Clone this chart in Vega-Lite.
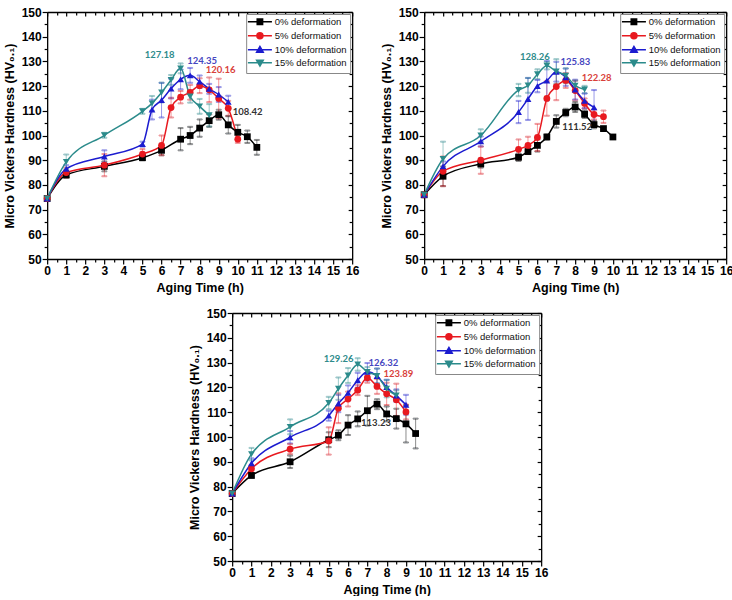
{
  "$schema": "https://vega.github.io/schema/vega-lite/v6.json",
  "padding": {"left": 3, "top": 6, "right": 0, "bottom": 0},
  "background": "white",
  "datasets": {
    "hv": [
      {"panel": "a", "series": "0% deformation", "t": 0, "hv": 74.5, "err": 0.5},
      {"panel": "a", "series": "0% deformation", "t": 1, "hv": 84, "err": 1},
      {"panel": "a", "series": "0% deformation", "t": 3, "hv": 87.5, "err": 2},
      {"panel": "a", "series": "0% deformation", "t": 5, "hv": 91, "err": 1},
      {"panel": "a", "series": "0% deformation", "t": 6, "hv": 94, "err": 2},
      {"panel": "a", "series": "0% deformation", "t": 7, "hv": 98.5, "err": 4.5},
      {"panel": "a", "series": "0% deformation", "t": 7.5, "hv": 100, "err": 3.5},
      {"panel": "a", "series": "0% deformation", "t": 8, "hv": 103, "err": 3.5},
      {"panel": "a", "series": "0% deformation", "t": 8.5, "hv": 106, "err": 2.5},
      {"panel": "a", "series": "0% deformation", "t": 9, "hv": 108.42, "err": 2},
      {"panel": "a", "series": "0% deformation", "t": 9.5, "hv": 104.3, "err": 3.5},
      {"panel": "a", "series": "0% deformation", "t": 10, "hv": 101.3, "err": 3},
      {"panel": "a", "series": "0% deformation", "t": 10.5, "hv": 99.5, "err": 2.5},
      {"panel": "a", "series": "0% deformation", "t": 11, "hv": 95.2, "err": 3},
      {"panel": "a", "series": "5% deformation", "t": 0, "hv": 74.5, "err": 0.5},
      {"panel": "a", "series": "5% deformation", "t": 1, "hv": 85, "err": 2},
      {"panel": "a", "series": "5% deformation", "t": 3, "hv": 88, "err": 4.5},
      {"panel": "a", "series": "5% deformation", "t": 5, "hv": 92.5, "err": 2},
      {"panel": "a", "series": "5% deformation", "t": 6, "hv": 96, "err": 4},
      {"panel": "a", "series": "5% deformation", "t": 6.5, "hv": 111.3, "err": 4},
      {"panel": "a", "series": "5% deformation", "t": 7, "hv": 115.5, "err": 2.5},
      {"panel": "a", "series": "5% deformation", "t": 7.5, "hv": 117.5, "err": 3},
      {"panel": "a", "series": "5% deformation", "t": 8, "hv": 120.16, "err": 3},
      {"panel": "a", "series": "5% deformation", "t": 8.5, "hv": 118.5, "err": 5},
      {"panel": "a", "series": "5% deformation", "t": 9, "hv": 115, "err": 8},
      {"panel": "a", "series": "5% deformation", "t": 9.5, "hv": 111, "err": 3},
      {"panel": "a", "series": "5% deformation", "t": 10, "hv": 98.5, "err": 1.5},
      {"panel": "a", "series": "10% deformation", "t": 0, "hv": 74.5, "err": 0.5},
      {"panel": "a", "series": "10% deformation", "t": 1, "hv": 86.5, "err": 1.5},
      {"panel": "a", "series": "10% deformation", "t": 3, "hv": 91.5, "err": 2.5},
      {"panel": "a", "series": "10% deformation", "t": 5, "hv": 96.5, "err": 1},
      {"panel": "a", "series": "10% deformation", "t": 5.5, "hv": 110.5, "err": 4},
      {"panel": "a", "series": "10% deformation", "t": 6, "hv": 114.3, "err": 7},
      {"panel": "a", "series": "10% deformation", "t": 6.5, "hv": 119, "err": 4},
      {"panel": "a", "series": "10% deformation", "t": 7, "hv": 122.7, "err": 4},
      {"panel": "a", "series": "10% deformation", "t": 7.5, "hv": 124.35, "err": 3},
      {"panel": "a", "series": "10% deformation", "t": 8, "hv": 121.8, "err": 2.5},
      {"panel": "a", "series": "10% deformation", "t": 8.5, "hv": 118.9, "err": 2},
      {"panel": "a", "series": "10% deformation", "t": 9, "hv": 116.6, "err": 3},
      {"panel": "a", "series": "10% deformation", "t": 9.5, "hv": 113.6, "err": 2.5},
      {"panel": "a", "series": "15% deformation", "t": 0, "hv": 74.5, "err": 0.5},
      {"panel": "a", "series": "15% deformation", "t": 1, "hv": 89.3, "err": 3},
      {"panel": "a", "series": "15% deformation", "t": 3, "hv": 100.1, "err": 1},
      {"panel": "a", "series": "15% deformation", "t": 5, "hv": 109.8, "err": 1},
      {"panel": "a", "series": "15% deformation", "t": 5.5, "hv": 113, "err": 3},
      {"panel": "a", "series": "15% deformation", "t": 6, "hv": 117.4, "err": 4},
      {"panel": "a", "series": "15% deformation", "t": 6.5, "hv": 122.5, "err": 2},
      {"panel": "a", "series": "15% deformation", "t": 7, "hv": 127.18, "err": 2},
      {"panel": "a", "series": "15% deformation", "t": 7.5, "hv": 115.8, "err": 2.5},
      {"panel": "a", "series": "15% deformation", "t": 8, "hv": 111.8, "err": 3},
      {"panel": "a", "series": "15% deformation", "t": 8.5, "hv": 108.2, "err": 4.5},

      {"panel": "b", "series": "0% deformation", "t": 0, "hv": 76, "err": 0.5},
      {"panel": "b", "series": "0% deformation", "t": 1, "hv": 83.5, "err": 4},
      {"panel": "b", "series": "0% deformation", "t": 3, "hv": 88.5, "err": 1.5},
      {"panel": "b", "series": "0% deformation", "t": 5, "hv": 91.2, "err": 1.5},
      {"panel": "b", "series": "0% deformation", "t": 5.5, "hv": 93.5, "err": 1},
      {"panel": "b", "series": "0% deformation", "t": 6, "hv": 96, "err": 2.5},
      {"panel": "b", "series": "0% deformation", "t": 6.5, "hv": 99.4, "err": 1},
      {"panel": "b", "series": "0% deformation", "t": 7, "hv": 105.7, "err": 2.5},
      {"panel": "b", "series": "0% deformation", "t": 7.5, "hv": 109.3, "err": 1.5},
      {"panel": "b", "series": "0% deformation", "t": 8, "hv": 111.52, "err": 2},
      {"panel": "b", "series": "0% deformation", "t": 8.5, "hv": 108.6, "err": 1.5},
      {"panel": "b", "series": "0% deformation", "t": 9, "hv": 104.4, "err": 1.5},
      {"panel": "b", "series": "0% deformation", "t": 9.5, "hv": 102.8, "err": 0.5},
      {"panel": "b", "series": "0% deformation", "t": 10, "hv": 99.4, "err": 0.5},
      {"panel": "b", "series": "5% deformation", "t": 0, "hv": 76, "err": 0.5},
      {"panel": "b", "series": "5% deformation", "t": 1, "hv": 85.5, "err": 6},
      {"panel": "b", "series": "5% deformation", "t": 3, "hv": 90, "err": 5.5},
      {"panel": "b", "series": "5% deformation", "t": 5, "hv": 94.4, "err": 4},
      {"panel": "b", "series": "5% deformation", "t": 5.5, "hv": 96, "err": 3.5},
      {"panel": "b", "series": "5% deformation", "t": 6, "hv": 99.2, "err": 5.5},
      {"panel": "b", "series": "5% deformation", "t": 6.5, "hv": 115, "err": 7},
      {"panel": "b", "series": "5% deformation", "t": 7, "hv": 119.8, "err": 5.5},
      {"panel": "b", "series": "5% deformation", "t": 7.5, "hv": 122.28, "err": 3},
      {"panel": "b", "series": "5% deformation", "t": 8, "hv": 118.2, "err": 4},
      {"panel": "b", "series": "5% deformation", "t": 8.5, "hv": 113, "err": 2},
      {"panel": "b", "series": "5% deformation", "t": 9, "hv": 108.5, "err": 2},
      {"panel": "b", "series": "5% deformation", "t": 9.5, "hv": 107.6, "err": 2.5},
      {"panel": "b", "series": "10% deformation", "t": 0, "hv": 76, "err": 0.5},
      {"panel": "b", "series": "10% deformation", "t": 1, "hv": 87.5, "err": 2},
      {"panel": "b", "series": "10% deformation", "t": 3, "hv": 97.6, "err": 2},
      {"panel": "b", "series": "10% deformation", "t": 5, "hv": 109.5, "err": 4.5},
      {"panel": "b", "series": "10% deformation", "t": 5.5, "hv": 114.8, "err": 8.5},
      {"panel": "b", "series": "10% deformation", "t": 6, "hv": 120, "err": 2.5},
      {"panel": "b", "series": "10% deformation", "t": 6.5, "hv": 122.2, "err": 8},
      {"panel": "b", "series": "10% deformation", "t": 7, "hv": 125.83, "err": 4},
      {"panel": "b", "series": "10% deformation", "t": 7.5, "hv": 123.6, "err": 3.5},
      {"panel": "b", "series": "10% deformation", "t": 8, "hv": 118.6, "err": 4},
      {"panel": "b", "series": "10% deformation", "t": 8.5, "hv": 114, "err": 3},
      {"panel": "b", "series": "10% deformation", "t": 9, "hv": 111.4, "err": 7},
      {"panel": "b", "series": "15% deformation", "t": 0, "hv": 76, "err": 0.5},
      {"panel": "b", "series": "15% deformation", "t": 1, "hv": 90.5, "err": 7},
      {"panel": "b", "series": "15% deformation", "t": 3, "hv": 100, "err": 2.5},
      {"panel": "b", "series": "15% deformation", "t": 5, "hv": 118.4, "err": 2.5},
      {"panel": "b", "series": "15% deformation", "t": 5.5, "hv": 120.3, "err": 3},
      {"panel": "b", "series": "15% deformation", "t": 6, "hv": 124.8, "err": 2},
      {"panel": "b", "series": "15% deformation", "t": 6.5, "hv": 128.26, "err": 1.5},
      {"panel": "b", "series": "15% deformation", "t": 7, "hv": 125.9, "err": 5},
      {"panel": "b", "series": "15% deformation", "t": 7.5, "hv": 124.2, "err": 3},
      {"panel": "b", "series": "15% deformation", "t": 8, "hv": 120.2, "err": 2},
      {"panel": "b", "series": "15% deformation", "t": 8.5, "hv": 118.6, "err": 1.5},

      {"panel": "c", "series": "0% deformation", "t": 0, "hv": 77.2, "err": 0.5},
      {"panel": "c", "series": "0% deformation", "t": 1, "hv": 84.5, "err": 1},
      {"panel": "c", "series": "0% deformation", "t": 3, "hv": 90, "err": 2.5},
      {"panel": "c", "series": "0% deformation", "t": 5, "hv": 98.9, "err": 3},
      {"panel": "c", "series": "0% deformation", "t": 5.5, "hv": 100.7, "err": 2},
      {"panel": "c", "series": "0% deformation", "t": 6, "hv": 104.8, "err": 4},
      {"panel": "c", "series": "0% deformation", "t": 6.5, "hv": 107.3, "err": 3},
      {"panel": "c", "series": "0% deformation", "t": 7, "hv": 110.6, "err": 6},
      {"panel": "c", "series": "0% deformation", "t": 7.5, "hv": 113.23, "err": 2},
      {"panel": "c", "series": "0% deformation", "t": 8, "hv": 109.3, "err": 3},
      {"panel": "c", "series": "0% deformation", "t": 8.5, "hv": 107.4, "err": 4},
      {"panel": "c", "series": "0% deformation", "t": 9, "hv": 105.3, "err": 7.5},
      {"panel": "c", "series": "0% deformation", "t": 9.5, "hv": 101.4, "err": 6},
      {"panel": "c", "series": "5% deformation", "t": 0, "hv": 77.2, "err": 0.5},
      {"panel": "c", "series": "5% deformation", "t": 1, "hv": 87.2, "err": 1.5},
      {"panel": "c", "series": "5% deformation", "t": 3, "hv": 95.1, "err": 2},
      {"panel": "c", "series": "5% deformation", "t": 5, "hv": 98.4, "err": 5.5},
      {"panel": "c", "series": "5% deformation", "t": 5.5, "hv": 111.6, "err": 6},
      {"panel": "c", "series": "5% deformation", "t": 6, "hv": 115.3, "err": 3},
      {"panel": "c", "series": "5% deformation", "t": 6.5, "hv": 118.9, "err": 2},
      {"panel": "c", "series": "5% deformation", "t": 7, "hv": 123.89, "err": 2},
      {"panel": "c", "series": "5% deformation", "t": 7.5, "hv": 120.4, "err": 3},
      {"panel": "c", "series": "5% deformation", "t": 8, "hv": 117.4, "err": 4.5},
      {"panel": "c", "series": "5% deformation", "t": 8.5, "hv": 115, "err": 6.5},
      {"panel": "c", "series": "5% deformation", "t": 9, "hv": 110.1, "err": 3},
      {"panel": "c", "series": "10% deformation", "t": 0, "hv": 77.2, "err": 0.5},
      {"panel": "c", "series": "10% deformation", "t": 1, "hv": 89.4, "err": 2},
      {"panel": "c", "series": "10% deformation", "t": 3, "hv": 99.9, "err": 2.5},
      {"panel": "c", "series": "10% deformation", "t": 5, "hv": 108.6, "err": 2},
      {"panel": "c", "series": "10% deformation", "t": 5.5, "hv": 113.5, "err": 3.5},
      {"panel": "c", "series": "10% deformation", "t": 6, "hv": 117.8, "err": 3},
      {"panel": "c", "series": "10% deformation", "t": 6.5, "hv": 122.9, "err": 3},
      {"panel": "c", "series": "10% deformation", "t": 7, "hv": 126.32, "err": 3.5},
      {"panel": "c", "series": "10% deformation", "t": 7.5, "hv": 124.6, "err": 3},
      {"panel": "c", "series": "10% deformation", "t": 8, "hv": 120.1, "err": 3},
      {"panel": "c", "series": "10% deformation", "t": 8.5, "hv": 116.7, "err": 2.5},
      {"panel": "c", "series": "10% deformation", "t": 9, "hv": 113, "err": 4},
      {"panel": "c", "series": "15% deformation", "t": 0, "hv": 77.2, "err": 0.5},
      {"panel": "c", "series": "15% deformation", "t": 1, "hv": 93.1, "err": 2.5},
      {"panel": "c", "series": "15% deformation", "t": 3, "hv": 104.1, "err": 3},
      {"panel": "c", "series": "15% deformation", "t": 5, "hv": 113.7, "err": 2.5},
      {"panel": "c", "series": "15% deformation", "t": 5.5, "hv": 119.5, "err": 4.5},
      {"panel": "c", "series": "15% deformation", "t": 6, "hv": 124.8, "err": 3},
      {"panel": "c", "series": "15% deformation", "t": 6.5, "hv": 129.26, "err": 2.5},
      {"panel": "c", "series": "15% deformation", "t": 7, "hv": 126.2, "err": 2},
      {"panel": "c", "series": "15% deformation", "t": 7.5, "hv": 124.6, "err": 3},
      {"panel": "c", "series": "15% deformation", "t": 8, "hv": 119.5, "err": 3.5},
      {"panel": "c", "series": "15% deformation", "t": 8.5, "hv": 116.8, "err": 2}
    ]
  },
  "vconcat": [
    {
      "hconcat": [
        {
          "width": 305, "height": 247,
          "data": {"name": "hv"},
          "transform": [{"filter": "datum.panel === 'a'"}],
          "encoding": {
            "x": {"field": "t", "type": "quantitative", "scale": {"domain": [0, 16], "nice": false, "zero": false}, "axis": null},
            "y": {"field": "hv", "type": "quantitative", "scale": {"domain": [50, 150], "nice": false, "zero": false}, "axis": null}
          },
          "layer": [
            {"mark": {"type": "point", "filled": true, "size": 36, "opacity": 0, "strokeWidth": 1.5},
             "encoding": {
               "color": {"field": "series", "type": "nominal", "scale": {"domain": ["0% deformation", "5% deformation", "10% deformation", "15% deformation"], "range": ["#000000", "#e8191f", "#1c1ccf", "#2b8b8b"]}, "legend": {"title": null}},
               "stroke": {"field": "series", "type": "nominal", "scale": {"domain": ["0% deformation", "5% deformation", "10% deformation", "15% deformation"], "range": ["#000000", "#e8191f", "#1c1ccf", "#2b8b8b"]}, "legend": {"title": null}},
               "shape": {"field": "series", "type": "nominal", "scale": {"domain": ["0% deformation", "5% deformation", "10% deformation", "15% deformation"], "range": ["M-4,0H4M-0.9,-0.9H0.9V0.9H-0.9Z", "M-4,0H4M1,0A1,1,0,1,1,-1,0A1,1,0,1,1,1,0Z", "M-4,0H4M0,-1.1L1.1,0.8H-1.1Z", "M-4,0H4M0,1.1L1.1,-0.8H-1.1Z"]}, "legend": {"title": null}}
             }},
            {"mark": {"type": "errorbar", "ticks": {"size": 5}, "thickness": 1, "opacity": 0.45},
             "encoding": {"yError": {"field": "err"}, "stroke": {"field": "series", "type": "nominal", "scale": {"domain": ["0% deformation", "5% deformation", "10% deformation", "15% deformation"], "range": ["#000000", "#e8191f", "#1c1ccf", "#2b8b8b"]}, "legend": null}}},
            {
              "mark": {"type": "line", "interpolate": "monotone", "strokeWidth": 1.5},
              "encoding": {
                "x": {"field": "t", "type": "quantitative", "scale": {"domain": [0, 16], "nice": false, "zero": false},
                  "axis": {"orient": "bottom", "title": "Aging Time (h)", "values": [0,0.5,1,1.5,2,2.5,3,3.5,4,4.5,5,5.5,6,6.5,7,7.5,8,8.5,9,9.5,10,10.5,11,11.5,12,12.5,13,13.5,14,14.5,15,15.5,16], "labelExpr": "datum.value % 1 === 0 ? '' + datum.value : ''", "tickSize": {"condition": {"test": "datum.value % 1 === 0", "value": 5}, "value": 3}}},
                "y": {"field": "hv", "type": "quantitative", "scale": {"domain": [50, 150], "nice": false, "zero": false},
                  "axis": {"orient": "left", "title": "Micro Vickers Hardness (HV₀.₁)", "values": [50,55,60,65,70,75,80,85,90,95,100,105,110,115,120,125,130,135,140,145,150], "labelExpr": "datum.value % 10 === 0 ? '' + datum.value : ''", "tickSize": {"condition": {"test": "datum.value % 10 === 0", "value": 5}, "value": 3}}},
                "stroke": {"field": "series", "type": "nominal", "scale": {"domain": ["0% deformation", "5% deformation", "10% deformation", "15% deformation"], "range": ["#000000", "#e8191f", "#1c1ccf", "#2b8b8b"]}, "legend": null}
              }
            },
            {
              "mark": {"type": "point", "filled": true, "size": 46, "opacity": 1},
              "encoding": {
                "x": {"field": "t", "type": "quantitative", "scale": {"domain": [0, 16], "nice": false, "zero": false},
                  "axis": {"orient": "top", "title": null, "labels": false, "values": [0,0.5,1,1.5,2,2.5,3,3.5,4,4.5,5,5.5,6,6.5,7,7.5,8,8.5,9,9.5,10,10.5,11,11.5,12,12.5,13,13.5,14,14.5,15,15.5,16], "tickSize": {"condition": {"test": "datum.value % 1 === 0", "value": -4}, "value": -3}}},
                "y": {"field": "hv", "type": "quantitative", "scale": {"domain": [50, 150], "nice": false, "zero": false},
                  "axis": {"orient": "right", "title": null, "labels": false, "values": [50,55,60,65,70,75,80,85,90,95,100,105,110,115,120,125,130,135,140,145,150], "tickSize": {"condition": {"test": "datum.value % 10 === 0", "value": -4}, "value": -3}}},
                "color": {"field": "series", "type": "nominal", "scale": {"domain": ["0% deformation", "5% deformation", "10% deformation", "15% deformation"], "range": ["#000000", "#e8191f", "#1c1ccf", "#2b8b8b"]}, "legend": null},
                "shape": {"field": "series", "type": "nominal", "scale": {"domain": ["0% deformation", "5% deformation", "10% deformation", "15% deformation"], "range": ["square", "circle", "triangle-up", "triangle-down"]}, "legend": null}
              }
            },
            {"transform": [{"filter": "datum.series === '15% deformation'"}, {"joinaggregate": [{"op": "max", "field": "hv", "as": "peak"}]}, {"filter": "datum.hv === datum.peak"}],
             "mark": {"type": "text", "font": "Lato", "fontWeight": "bold", "fontSize": 9.5, "dx": -21, "dy": -13, "color": "#2e8b8b"},
             "encoding": {"text": {"field": "hv", "type": "quantitative", "format": ".2f"}}},
            {"transform": [{"filter": "datum.series === '10% deformation'"}, {"joinaggregate": [{"op": "max", "field": "hv", "as": "peak"}]}, {"filter": "datum.hv === datum.peak"}],
             "mark": {"type": "text", "font": "Lato", "fontWeight": "bold", "fontSize": 9.5, "dx": 12, "dy": -14, "color": "#4646c0"},
             "encoding": {"text": {"field": "hv", "type": "quantitative", "format": ".2f"}}},
            {"transform": [{"filter": "datum.series === '5% deformation'"}, {"joinaggregate": [{"op": "max", "field": "hv", "as": "peak"}]}, {"filter": "datum.hv === datum.peak"}],
             "mark": {"type": "text", "font": "Lato", "fontWeight": "bold", "fontSize": 9.5, "dx": 21, "dy": -16, "color": "#d9403a"},
             "encoding": {"text": {"field": "hv", "type": "quantitative", "format": ".2f"}}},
            {"transform": [{"filter": "datum.series === '0% deformation'"}, {"joinaggregate": [{"op": "max", "field": "hv", "as": "peak"}]}, {"filter": "datum.hv === datum.peak"}],
             "mark": {"type": "text", "font": "Lato", "fontWeight": "bold", "fontSize": 9.5, "dx": 29, "dy": -3, "color": "#333333"},
             "encoding": {"text": {"field": "hv", "type": "quantitative", "format": ".2f"}}},
            {"data": {"values": [{"panel": "a", "tag": "a"}]},
             "mark": {"type": "text", "align": "left", "baseline": "middle", "font": "Liberation Sans", "fontWeight": "bold", "fontSize": 17, "color": "#000000"},
             "encoding": {"x": {"datum": 0.6, "type": "quantitative", "axis": null}, "y": {"datum": 142, "type": "quantitative", "axis": null}, "text": {"field": "tag"}}}
          ],
          "resolve": {"axis": {"x": "independent", "y": "independent"}, "scale": {"color": "independent", "shape": "independent", "stroke": "independent"}}
        },
        {
          "width": 302, "height": 247,
          "data": {"name": "hv"},
          "transform": [{"filter": "datum.panel === 'b'"}],
          "encoding": {
            "x": {"field": "t", "type": "quantitative", "scale": {"domain": [0, 16], "nice": false, "zero": false}, "axis": null},
            "y": {"field": "hv", "type": "quantitative", "scale": {"domain": [50, 150], "nice": false, "zero": false}, "axis": null}
          },
          "layer": [
            {"mark": {"type": "point", "filled": true, "size": 36, "opacity": 0, "strokeWidth": 1.5},
             "encoding": {
               "color": {"field": "series", "type": "nominal", "scale": {"domain": ["0% deformation", "5% deformation", "10% deformation", "15% deformation"], "range": ["#000000", "#e8191f", "#1c1ccf", "#2b8b8b"]}, "legend": {"title": null}},
               "stroke": {"field": "series", "type": "nominal", "scale": {"domain": ["0% deformation", "5% deformation", "10% deformation", "15% deformation"], "range": ["#000000", "#e8191f", "#1c1ccf", "#2b8b8b"]}, "legend": {"title": null}},
               "shape": {"field": "series", "type": "nominal", "scale": {"domain": ["0% deformation", "5% deformation", "10% deformation", "15% deformation"], "range": ["M-4,0H4M-0.9,-0.9H0.9V0.9H-0.9Z", "M-4,0H4M1,0A1,1,0,1,1,-1,0A1,1,0,1,1,1,0Z", "M-4,0H4M0,-1.1L1.1,0.8H-1.1Z", "M-4,0H4M0,1.1L1.1,-0.8H-1.1Z"]}, "legend": {"title": null}}
             }},
            {"mark": {"type": "errorbar", "ticks": {"size": 5}, "thickness": 1, "opacity": 0.45},
             "encoding": {"yError": {"field": "err"}, "stroke": {"field": "series", "type": "nominal", "scale": {"domain": ["0% deformation", "5% deformation", "10% deformation", "15% deformation"], "range": ["#000000", "#e8191f", "#1c1ccf", "#2b8b8b"]}, "legend": null}}},
            {
              "mark": {"type": "line", "interpolate": "monotone", "strokeWidth": 1.5},
              "encoding": {
                "x": {"field": "t", "type": "quantitative", "scale": {"domain": [0, 16], "nice": false, "zero": false},
                  "axis": {"orient": "bottom", "title": "Aging Time (h)", "values": [0,0.5,1,1.5,2,2.5,3,3.5,4,4.5,5,5.5,6,6.5,7,7.5,8,8.5,9,9.5,10,10.5,11,11.5,12,12.5,13,13.5,14,14.5,15,15.5,16], "labelExpr": "datum.value % 1 === 0 ? '' + datum.value : ''", "tickSize": {"condition": {"test": "datum.value % 1 === 0", "value": 5}, "value": 3}}},
                "y": {"field": "hv", "type": "quantitative", "scale": {"domain": [50, 150], "nice": false, "zero": false},
                  "axis": {"orient": "left", "title": "Micro Vickers Hardness (HV₀.₁)", "values": [50,55,60,65,70,75,80,85,90,95,100,105,110,115,120,125,130,135,140,145,150], "labelExpr": "datum.value % 10 === 0 ? '' + datum.value : ''", "tickSize": {"condition": {"test": "datum.value % 10 === 0", "value": 5}, "value": 3}}},
                "stroke": {"field": "series", "type": "nominal", "scale": {"domain": ["0% deformation", "5% deformation", "10% deformation", "15% deformation"], "range": ["#000000", "#e8191f", "#1c1ccf", "#2b8b8b"]}, "legend": null}
              }
            },
            {
              "mark": {"type": "point", "filled": true, "size": 46, "opacity": 1},
              "encoding": {
                "x": {"field": "t", "type": "quantitative", "scale": {"domain": [0, 16], "nice": false, "zero": false},
                  "axis": {"orient": "top", "title": null, "labels": false, "values": [0,0.5,1,1.5,2,2.5,3,3.5,4,4.5,5,5.5,6,6.5,7,7.5,8,8.5,9,9.5,10,10.5,11,11.5,12,12.5,13,13.5,14,14.5,15,15.5,16], "tickSize": {"condition": {"test": "datum.value % 1 === 0", "value": -4}, "value": -3}}},
                "y": {"field": "hv", "type": "quantitative", "scale": {"domain": [50, 150], "nice": false, "zero": false},
                  "axis": {"orient": "right", "title": null, "labels": false, "values": [50,55,60,65,70,75,80,85,90,95,100,105,110,115,120,125,130,135,140,145,150], "tickSize": {"condition": {"test": "datum.value % 10 === 0", "value": -4}, "value": -3}}},
                "color": {"field": "series", "type": "nominal", "scale": {"domain": ["0% deformation", "5% deformation", "10% deformation", "15% deformation"], "range": ["#000000", "#e8191f", "#1c1ccf", "#2b8b8b"]}, "legend": null},
                "shape": {"field": "series", "type": "nominal", "scale": {"domain": ["0% deformation", "5% deformation", "10% deformation", "15% deformation"], "range": ["square", "circle", "triangle-up", "triangle-down"]}, "legend": null}
              }
            },
            {"transform": [{"filter": "datum.series === '15% deformation'"}, {"joinaggregate": [{"op": "max", "field": "hv", "as": "peak"}]}, {"filter": "datum.hv === datum.peak"}],
             "mark": {"type": "text", "font": "Lato", "fontWeight": "bold", "fontSize": 9.5, "dx": -12, "dy": -9, "color": "#2e8b8b"},
             "encoding": {"text": {"field": "hv", "type": "quantitative", "format": ".2f"}}},
            {"transform": [{"filter": "datum.series === '10% deformation'"}, {"joinaggregate": [{"op": "max", "field": "hv", "as": "peak"}]}, {"filter": "datum.hv === datum.peak"}],
             "mark": {"type": "text", "font": "Lato", "fontWeight": "bold", "fontSize": 9.5, "dx": 19, "dy": -10, "color": "#4646c0"},
             "encoding": {"text": {"field": "hv", "type": "quantitative", "format": ".2f"}}},
            {"transform": [{"filter": "datum.series === '5% deformation'"}, {"joinaggregate": [{"op": "max", "field": "hv", "as": "peak"}]}, {"filter": "datum.hv === datum.peak"}],
             "mark": {"type": "text", "font": "Lato", "fontWeight": "bold", "fontSize": 9.5, "dx": 31, "dy": -2, "color": "#d9403a"},
             "encoding": {"text": {"field": "hv", "type": "quantitative", "format": ".2f"}}},
            {"transform": [{"filter": "datum.series === '0% deformation'"}, {"joinaggregate": [{"op": "max", "field": "hv", "as": "peak"}]}, {"filter": "datum.hv === datum.peak"}],
             "mark": {"type": "text", "font": "Lato", "fontWeight": "bold", "fontSize": 9.5, "dx": 2, "dy": 20, "color": "#333333"},
             "encoding": {"text": {"field": "hv", "type": "quantitative", "format": ".2f"}}},
            {"data": {"values": [{"panel": "b", "tag": "b"}]},
             "mark": {"type": "text", "align": "left", "baseline": "middle", "font": "Liberation Sans", "fontWeight": "bold", "fontSize": 15, "color": "#000000"},
             "encoding": {"x": {"datum": 0.65, "type": "quantitative", "axis": null}, "y": {"datum": 142, "type": "quantitative", "axis": null}, "text": {"field": "tag"}}}
          ],
          "resolve": {"axis": {"x": "independent", "y": "independent"}, "scale": {"color": "independent", "shape": "independent", "stroke": "independent"}}
        }
      ],
      "spacing": 20,
      "resolve": {"scale": {"color": "independent", "shape": "independent", "stroke": "independent"}}
    },
    {
      "width": 309, "height": 248,
      "data": {"name": "hv"},
      "transform": [{"filter": "datum.panel === 'c'"}],
      "encoding": {
        "x": {"field": "t", "type": "quantitative", "scale": {"domain": [0, 16], "nice": false, "zero": false}, "axis": null},
        "y": {"field": "hv", "type": "quantitative", "scale": {"domain": [50, 150], "nice": false, "zero": false}, "axis": null}
      },
      "layer": [
        {"mark": {"type": "point", "filled": true, "size": 36, "opacity": 0, "strokeWidth": 1.5},
         "encoding": {
           "color": {"field": "series", "type": "nominal", "scale": {"domain": ["0% deformation", "5% deformation", "10% deformation", "15% deformation"], "range": ["#000000", "#e8191f", "#1c1ccf", "#2b8b8b"]}, "legend": {"title": null}},
           "stroke": {"field": "series", "type": "nominal", "scale": {"domain": ["0% deformation", "5% deformation", "10% deformation", "15% deformation"], "range": ["#000000", "#e8191f", "#1c1ccf", "#2b8b8b"]}, "legend": {"title": null}},
           "shape": {"field": "series", "type": "nominal", "scale": {"domain": ["0% deformation", "5% deformation", "10% deformation", "15% deformation"], "range": ["M-4,0H4M-0.9,-0.9H0.9V0.9H-0.9Z", "M-4,0H4M1,0A1,1,0,1,1,-1,0A1,1,0,1,1,1,0Z", "M-4,0H4M0,-1.1L1.1,0.8H-1.1Z", "M-4,0H4M0,1.1L1.1,-0.8H-1.1Z"]}, "legend": {"title": null}}
         }},
        {"mark": {"type": "errorbar", "ticks": {"size": 5}, "thickness": 1, "opacity": 0.45},
         "encoding": {"yError": {"field": "err"}, "stroke": {"field": "series", "type": "nominal", "scale": {"domain": ["0% deformation", "5% deformation", "10% deformation", "15% deformation"], "range": ["#000000", "#e8191f", "#1c1ccf", "#2b8b8b"]}, "legend": null}}},
        {
          "mark": {"type": "line", "interpolate": "monotone", "strokeWidth": 1.5},
          "encoding": {
            "x": {"field": "t", "type": "quantitative", "scale": {"domain": [0, 16], "nice": false, "zero": false},
              "axis": {"orient": "bottom", "title": "Aging Time (h)", "values": [0,0.5,1,1.5,2,2.5,3,3.5,4,4.5,5,5.5,6,6.5,7,7.5,8,8.5,9,9.5,10,10.5,11,11.5,12,12.5,13,13.5,14,14.5,15,15.5,16], "labelExpr": "datum.value % 1 === 0 ? '' + datum.value : ''", "tickSize": {"condition": {"test": "datum.value % 1 === 0", "value": 5}, "value": 3}}},
            "y": {"field": "hv", "type": "quantitative", "scale": {"domain": [50, 150], "nice": false, "zero": false},
              "axis": {"orient": "left", "title": "Micro Vickers Hardness (HV₀.₁)", "values": [50,55,60,65,70,75,80,85,90,95,100,105,110,115,120,125,130,135,140,145,150], "labelExpr": "datum.value % 10 === 0 ? '' + datum.value : ''", "tickSize": {"condition": {"test": "datum.value % 10 === 0", "value": 5}, "value": 3}}},
            "stroke": {"field": "series", "type": "nominal", "scale": {"domain": ["0% deformation", "5% deformation", "10% deformation", "15% deformation"], "range": ["#000000", "#e8191f", "#1c1ccf", "#2b8b8b"]}, "legend": null}
          }
        },
        {
          "mark": {"type": "point", "filled": true, "size": 46, "opacity": 1},
          "encoding": {
            "x": {"field": "t", "type": "quantitative", "scale": {"domain": [0, 16], "nice": false, "zero": false},
              "axis": {"orient": "top", "title": null, "labels": false, "values": [0,0.5,1,1.5,2,2.5,3,3.5,4,4.5,5,5.5,6,6.5,7,7.5,8,8.5,9,9.5,10,10.5,11,11.5,12,12.5,13,13.5,14,14.5,15,15.5,16], "tickSize": {"condition": {"test": "datum.value % 1 === 0", "value": -4}, "value": -3}}},
            "y": {"field": "hv", "type": "quantitative", "scale": {"domain": [50, 150], "nice": false, "zero": false},
              "axis": {"orient": "right", "title": null, "labels": false, "values": [50,55,60,65,70,75,80,85,90,95,100,105,110,115,120,125,130,135,140,145,150], "tickSize": {"condition": {"test": "datum.value % 10 === 0", "value": -4}, "value": -3}}},
            "color": {"field": "series", "type": "nominal", "scale": {"domain": ["0% deformation", "5% deformation", "10% deformation", "15% deformation"], "range": ["#000000", "#e8191f", "#1c1ccf", "#2b8b8b"]}, "legend": null},
            "shape": {"field": "series", "type": "nominal", "scale": {"domain": ["0% deformation", "5% deformation", "10% deformation", "15% deformation"], "range": ["square", "circle", "triangle-up", "triangle-down"]}, "legend": null}
          }
        },
        {"transform": [{"filter": "datum.series === '15% deformation'"}, {"joinaggregate": [{"op": "max", "field": "hv", "as": "peak"}]}, {"filter": "datum.hv === datum.peak"}],
         "mark": {"type": "text", "font": "Lato", "fontWeight": "bold", "fontSize": 9.5, "dx": -19, "dy": -5, "color": "#2e8b8b"},
         "encoding": {"text": {"field": "hv", "type": "quantitative", "format": ".2f"}}},
        {"transform": [{"filter": "datum.series === '10% deformation'"}, {"joinaggregate": [{"op": "max", "field": "hv", "as": "peak"}]}, {"filter": "datum.hv === datum.peak"}],
         "mark": {"type": "text", "font": "Lato", "fontWeight": "bold", "fontSize": 9.5, "dx": 16, "dy": -9, "color": "#4646c0"},
         "encoding": {"text": {"field": "hv", "type": "quantitative", "format": ".2f"}}},
        {"transform": [{"filter": "datum.series === '5% deformation'"}, {"joinaggregate": [{"op": "max", "field": "hv", "as": "peak"}]}, {"filter": "datum.hv === datum.peak"}],
         "mark": {"type": "text", "font": "Lato", "fontWeight": "bold", "fontSize": 9.5, "dx": 31, "dy": -4, "color": "#d9403a"},
         "encoding": {"text": {"field": "hv", "type": "quantitative", "format": ".2f"}}},
        {"transform": [{"filter": "datum.series === '0% deformation'"}, {"joinaggregate": [{"op": "max", "field": "hv", "as": "peak"}]}, {"filter": "datum.hv === datum.peak"}],
         "mark": {"type": "text", "font": "Lato", "fontWeight": "bold", "fontSize": 9.5, "dx": -1, "dy": 19, "color": "#333333"},
         "encoding": {"text": {"field": "hv", "type": "quantitative", "format": ".2f"}}},
        {"data": {"values": [{"panel": "c", "tag": "c"}]},
         "mark": {"type": "text", "align": "left", "baseline": "middle", "font": "Liberation Sans", "fontWeight": "bold", "fontSize": 13, "color": "#000000"},
         "encoding": {"x": {"datum": 0.6, "type": "quantitative", "axis": null}, "y": {"datum": 141.5, "type": "quantitative", "axis": null}, "text": {"field": "tag"}}}
      ],
      "resolve": {"axis": {"x": "independent", "y": "independent"}, "scale": {"color": "independent", "shape": "independent", "stroke": "independent"}}
    }
  ],
  "spacing": 13,
  "center": true,
  "resolve": {"scale": {"color": "independent", "shape": "independent", "stroke": "independent"}},
  "config": {
    "view": {"stroke": null},
    "axis": {"domainColor": "#000000", "domainWidth": 1.3, "tickColor": "#000000", "tickWidth": 1.2, "labelFont": "Liberation Sans", "labelFontWeight": "bold", "labelFontSize": 12, "labelColor": "#000000", "labelPadding": 1, "titleFont": "Liberation Sans", "titleFontWeight": "bold", "titleFontSize": 12.5, "titleColor": "#000000", "titlePadding": 5, "grid": false, "labelOverlap": false, "labelFlush": false},
    "legend": {"orient": "top-right", "offset": 2, "fillColor": "white", "strokeColor": "#888888", "padding": 3, "labelFont": "Liberation Sans", "labelFontSize": 9.5, "labelColor": "#111111", "symbolSize": 36, "symbolOffset": 6, "labelOffset": 10, "rowPadding": 1, "symbolStrokeWidth": 1.5, "symbolOpacity": 1}
  }
}
